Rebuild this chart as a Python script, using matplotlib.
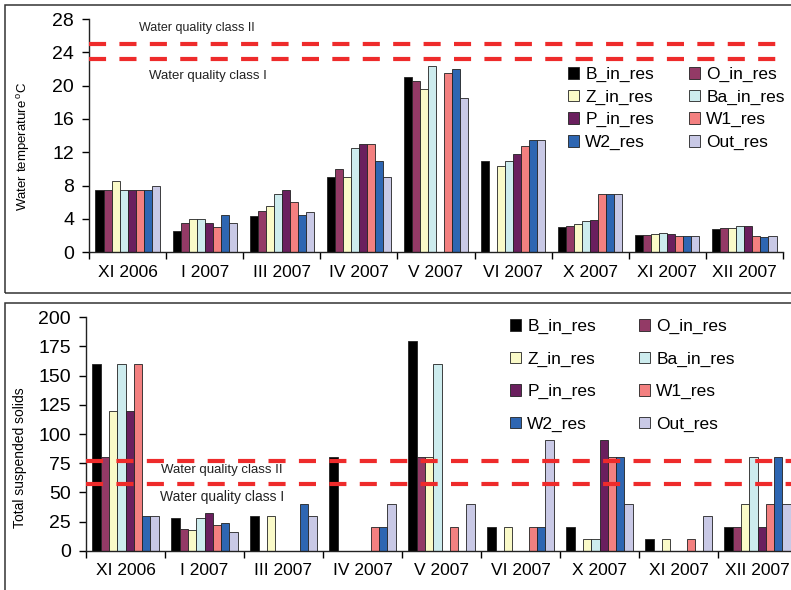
import matplotlib
matplotlib.use("Agg")
import matplotlib.pyplot as plt
from matplotlib.patches import Rectangle
import numpy as np

plt.rcParams['font.family'] = ['Liberation Sans', 'DejaVu Sans']
plt.rcParams['mathtext.fontset'] = 'custom'
plt.rcParams['mathtext.rm'] = 'Liberation Sans'

categories = ["XI 2006", "I 2007", "III 2007", "IV 2007", "V 2007", "VI 2007", "X 2007", "XI 2007", "XII 2007"]
series = ["B_in_res", "O_in_res", "Z_in_res", "Ba_in_res", "P_in_res", "W1_res", "W2_res", "Out_res"]
colors = ["#000000", "#933A66", "#FAFAC8", "#CDECEE", "#6A1F5E", "#F38080", "#2E66B2", "#C9C9E6"]

# Water temperature (deg C); 0 = no bar
temp_B  = [7.5, 2.5, 4.3, 9.0, 21.0, 11.0, 3.0, 2.1, 2.8]
temp_O  = [7.5, 3.5, 5.0, 10.0, 20.5, 0.0, 3.2, 2.1, 2.9]
temp_Z  = [8.5, 4.0, 5.5, 9.0, 19.6, 10.4, 3.4, 2.2, 2.9]
temp_Ba = [7.5, 4.0, 7.0, 12.5, 22.4, 11.0, 3.8, 2.3, 3.1]
temp_P  = [7.5, 3.5, 7.5, 13.0, 0.0, 11.8, 3.9, 2.2, 3.1]
temp_W1 = [7.5, 3.0, 6.0, 13.0, 21.5, 12.8, 7.0, 2.0, 2.0]
temp_W2 = [7.5, 4.5, 4.5, 11.0, 22.0, 13.5, 7.0, 1.9, 1.8]
temp_Out = [8.0, 3.5, 4.8, 9.0, 18.5, 13.5, 7.0, 2.0, 1.9]

# Total suspended solids
tss_B  = [160, 28, 30, 80, 180, 20, 20, 10, 20]
tss_O  = [80, 19, 0, 0, 80, 0, 0, 0, 20]
tss_Z  = [120, 18, 30, 0, 80, 20, 10, 10, 40]
tss_Ba = [160, 28, 0, 0, 160, 0, 10, 0, 80]
tss_P  = [120, 32, 0, 0, 0, 0, 95, 0, 20]
tss_W1 = [160, 22, 0, 20, 20, 20, 80, 10, 40]
tss_W2 = [30, 24, 40, 20, 0, 20, 80, 0, 80]
tss_Out = [30, 16, 30, 40, 40, 95, 40, 30, 40]

temp_limits = [25.0, 23.2]
tss_limits = [77.0, 57.5]
temp_yticks = [0, 4, 8, 12, 16, 20, 24, 28]
tss_yticks = [0, 25, 50, 75, 100, 125, 150, 175, 200]

temp_data = [temp_B, temp_O, temp_Z, temp_Ba, temp_P, temp_W1, temp_W2, temp_Out]
tss_data = [tss_B, tss_O, tss_Z, tss_Ba, tss_P, tss_W1, tss_W2, tss_Out]

W, H = 791, 590
fig = plt.figure(figsize=(W / 100, H / 100), dpi=100)

# panel frames
fig.patches.append(Rectangle((5 / W, 1 - 293.3 / H), 1.0, (293.3 - 4.7) / H,
                             transform=fig.transFigure, fill=False, edgecolor="#333333", lw=1.1))
fig.patches.append(Rectangle((5 / W, -0.05), 1.0, 0.05 + 1 - 302.7 / H,
                             transform=fig.transFigure, fill=False, edgecolor="#333333", lw=1.1))

ax1 = fig.add_axes([89.3 / W, 1 - 252.3 / H, 693.4 / W, (252.3 - 19) / H])
ax2 = fig.add_axes([86 / W, 1 - 550.7 / H, 711 / W, (550.7 - 317.3) / H])

bw = 0.105
x = np.arange(len(categories))


def draw(ax, data, ymax, yticks, limits, texts, ylabel, ylab_xy, ylab_size, leg_xy, leg_spacing, colsp):
    handles = []
    for i, (vals, c) in enumerate(zip(data, colors)):
        off = -4 * bw + bw / 2 + i * bw
        v = np.array(vals, dtype=float)
        mask = v > 0
        b = ax.bar(x[mask] + off, v[mask], width=bw, color=c, edgecolor="#222222", linewidth=0.6, zorder=2)
        handles.append(b)
    for lim in limits:
        ax.axhline(lim, color="#EE2B2B", lw=3.0, linestyle=(0, (4.1, 3.2)), zorder=3)
    for (tx, ty, s, fs) in texts:
        ax.text(tx, ty, s, ha="center", va="center", fontsize=fs, color="#222222", zorder=4)
    ax.set_xlim(-0.5, len(categories) - 0.5)
    ax.set_ylim(0, ymax)
    ax.set_yticks(yticks)
    ax.set_xticks(x)
    ax.set_xticklabels(categories)
    ax.set_xticks(np.arange(len(categories) + 1) - 0.5, minor=True)
    ax.tick_params(axis="x", which="major", length=0, labelsize=12.5, pad=9)
    ax.tick_params(axis="x", which="minor", length=5, width=1, direction="out")
    ax.tick_params(axis="y", length=5, width=1, direction="out", labelsize=14, pad=6)
    for s in ["top", "right"]:
        ax.spines[s].set_visible(False)
    for s in ["left", "bottom"]:
        ax.spines[s].set_linewidth(1.0)
        ax.spines[s].set_color("#222222")
    fig.text(ylab_xy[0] / W, 1 - ylab_xy[1] / H, ylabel, rotation=90, ha="center", va="center",
             fontsize=ylab_size)
    order = [0, 2, 4, 6, 1, 3, 5, 7]
    leg = ax.legend([handles[k] for k in order], [series[k] for k in order], ncol=2,
                    loc="upper left", bbox_to_anchor=(leg_xy[0] / W, 1 - leg_xy[1] / H),
                    bbox_transform=fig.transFigure, frameon=True, framealpha=1, edgecolor="none",
                    facecolor="white", fontsize=12.5, handlelength=0.65, handleheight=0.65,
                    handletextpad=0.35, columnspacing=colsp, labelspacing=leg_spacing, borderpad=0,
                    borderaxespad=0)
    leg.set_zorder(5)


draw(ax1, temp_data, 28, temp_yticks, temp_limits,
     [(0.90, 26.9, "Water quality class II", 9), (1.04, 21.1, "Water quality class I", 9.5)],
     r"Water temperature$\,^{\mathrm{o}}$C", (24, 146.5), 9.5, (568, 67), 0.43, 2.0)
draw(ax2, tss_data, 200, tss_yticks, tss_limits,
     [(1.22, 69.3, "Water quality class II", 9.5), (1.22, 45.8, "Water quality class I", 10)],
     "Total suspended solids", (20, 458), 10, (510, 319), 1.0, 2.46)

fig.savefig("out.png", dpi=100)
